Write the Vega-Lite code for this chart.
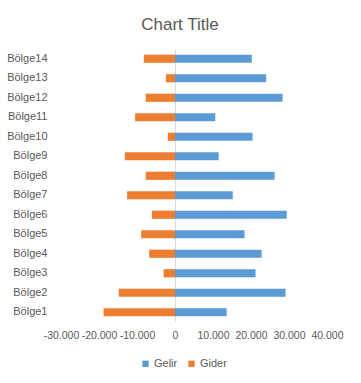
{
  "$schema": "https://vega.github.io/schema/vega-lite/v6.json",
  "width": 266,
  "height": 273,
  "autosize": "none",
  "padding": {"left": 61, "top": 49, "right": 34, "bottom": 61},
  "background": "white",
  "title": {
    "text": "Chart Title",
    "font": "Liberation Sans",
    "fontSize": 17,
    "fontWeight": "normal",
    "color": "#595959",
    "anchor": "middle",
    "dx": -14,
    "offset": 15
  },
  "data": {
    "values": [
      {"region": "Bölge1", "series": "Gelir", "value": 13600},
      {"region": "Bölge2", "series": "Gelir", "value": 29100},
      {"region": "Bölge3", "series": "Gelir", "value": 21200},
      {"region": "Bölge4", "series": "Gelir", "value": 22800},
      {"region": "Bölge5", "series": "Gelir", "value": 18300},
      {"region": "Bölge6", "series": "Gelir", "value": 29400},
      {"region": "Bölge7", "series": "Gelir", "value": 15200},
      {"region": "Bölge8", "series": "Gelir", "value": 26200},
      {"region": "Bölge9", "series": "Gelir", "value": 11500},
      {"region": "Bölge10", "series": "Gelir", "value": 20400},
      {"region": "Bölge11", "series": "Gelir", "value": 10600},
      {"region": "Bölge12", "series": "Gelir", "value": 28300},
      {"region": "Bölge13", "series": "Gelir", "value": 24000},
      {"region": "Bölge14", "series": "Gelir", "value": 20200},
      {"region": "Bölge1", "series": "Gider", "value": -18800},
      {"region": "Bölge2", "series": "Gider", "value": -14800},
      {"region": "Bölge3", "series": "Gider", "value": -3000},
      {"region": "Bölge4", "series": "Gider", "value": -6800},
      {"region": "Bölge5", "series": "Gider", "value": -8900},
      {"region": "Bölge6", "series": "Gider", "value": -6100},
      {"region": "Bölge7", "series": "Gider", "value": -12600},
      {"region": "Bölge8", "series": "Gider", "value": -7700},
      {"region": "Bölge9", "series": "Gider", "value": -13200},
      {"region": "Bölge10", "series": "Gider", "value": -1900},
      {"region": "Bölge11", "series": "Gider", "value": -10500},
      {"region": "Bölge12", "series": "Gider", "value": -7700},
      {"region": "Bölge13", "series": "Gider", "value": -2400},
      {"region": "Bölge14", "series": "Gider", "value": -8200}
    ]
  },
  "mark": {"type": "bar"},
  "encoding": {
    "y": {
      "field": "region",
      "type": "nominal",
      "sort": ["Bölge14","Bölge13","Bölge12","Bölge11","Bölge10","Bölge9","Bölge8","Bölge7","Bölge6","Bölge5","Bölge4","Bölge3","Bölge2","Bölge1"],
      "scale": {"paddingInner": 0.58, "paddingOuter": 0.29},
      "axis": {
        "title": null,
        "domain": false,
        "ticks": false,
        "labelPadding": 14,
        "labelFont": "Liberation Sans",
        "labelFontSize": 11,
        "labelColor": "#595959"
      }
    },
    "x": {
      "field": "value",
      "type": "quantitative",
      "stack": null,
      "scale": {"domain": [-30000, 40000], "nice": false, "zero": false},
      "axis": {
        "title": null,
        "values": [-30000, -20000, -10000, 0, 10000, 20000, 30000, 40000],
        "grid": true,
        "gridColor": "#D9D9D9",
        "gridOpacity": {"condition": {"test": "datum.value === 0", "value": 1}, "value": 0},
        "domain": false,
        "ticks": false,
        "labelOverlap": false,
        "labelBound": false,
        "labelFlush": false,
        "labelPadding": 8,
        "labelFont": "Liberation Sans",
        "labelFontSize": 10.5,
        "labelColor": "#595959",
        "labelExpr": "datum.value < 0 ? '-' + replace(format(-datum.value, ','), /,/g, '.') : replace(format(datum.value, ','), /,/g, '.')"
      }
    },
    "color": {
      "field": "series",
      "type": "nominal",
      "scale": {"domain": ["Gelir", "Gider"], "range": ["#5B9BD5", "#ED7D31"]},
      "legend": {
        "title": null,
        "orient": "none",
        "direction": "horizontal",
        "legendX": 79,
        "legendY": 309,
        "symbolType": "square",
        "symbolSize": 40,
        "symbolStrokeWidth": 0,
        "labelFont": "Liberation Sans",
        "labelFontSize": 11,
        "labelColor": "#595959",
        "labelOffset": 3,
        "columnPadding": 8
      }
    }
  },
  "config": {
    "view": {"stroke": null}
  }
}
